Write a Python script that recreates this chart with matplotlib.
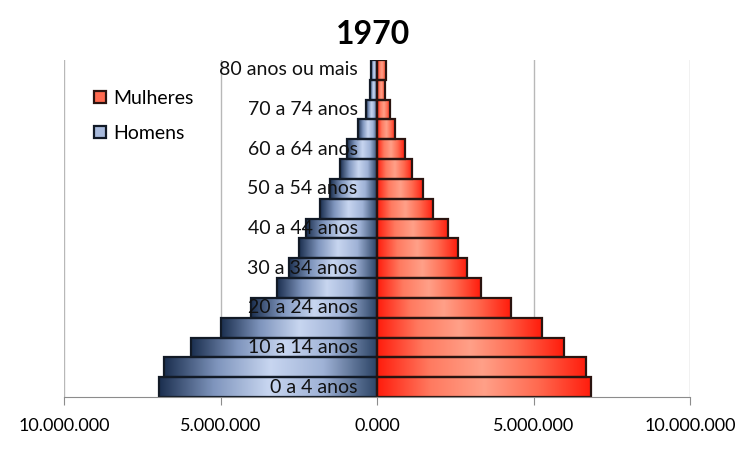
import numpy as np
import matplotlib
matplotlib.use("Agg")
import matplotlib.pyplot as plt
from matplotlib.colors import LinearSegmentedColormap
from matplotlib.lines import Line2D

ageGroups = ["0 a 4 anos", "5 a 9 anos", "10 a 14 anos", "15 a 19 anos", "20 a 24 anos",
             "25 a 29 anos", "30 a 34 anos", "35 a 39 anos", "40 a 44 anos", "45 a 49 anos",
             "50 a 54 anos", "55 a 59 anos", "60 a 64 anos", "65 a 69 anos", "70 a 74 anos",
             "75 a 79 anos", "80 anos ou mais"]
homens = [6970000, 6790000, 5940000, 5000000, 4020000, 3190000, 2810000, 2490000, 2270000,
          1810000, 1490000, 1170000, 960000, 620000, 350000, 210000, 190000]
mulheres = [6840000, 6680000, 5960000, 5270000, 4280000, 3320000, 2880000, 2580000, 2280000,
            1790000, 1480000, 1120000, 880000, 590000, 420000, 260000, 290000]
xTicks = [-10000000, -5000000, 0, 5000000, 10000000]
xTickLabels = ["10.000.000", "5.000.000", "0.000", "5.000.000", "10.000.000"]

plt.rcParams['font.family'] = ['Lato', 'DejaVu Sans']

fig = plt.figure(figsize=(7.5, 4.5), dpi=100)
ax = fig.add_axes([64 / 750, 1 - 397 / 450, 626 / 750, 337 / 450])

blueMap = LinearSegmentedColormap.from_list("b", ["#1b2f4f", "#7f95bd", "#c8d6f0", "#9fb2d6", "#2c4466"])
redMap = LinearSegmentedColormap.from_list("r", ["#ff1c0c", "#ff7a60", "#ffa088", "#ff6a50", "#ff1c0c"])
grad = np.linspace(0, 1, 256).reshape(1, -1)

for xv in xTicks:
    ax.axvline(xv, color="#b8b8b8", lw=1, zorder=0)

for i in range(len(ageGroups)):
    ax.imshow(grad, cmap=blueMap, aspect="auto", interpolation="bilinear",
              extent=[-homens[i], 0, i - 0.5, i + 0.5], zorder=1)
    ax.imshow(grad, cmap=redMap, aspect="auto", interpolation="bilinear",
              extent=[0, mulheres[i], i - 0.5, i + 0.5], zorder=1)

y = np.arange(len(ageGroups))
ax.barh(y, -np.array(homens), height=1, facecolor="none", edgecolor="#121a26", lw=1.6, zorder=2)
ax.barh(y, mulheres, height=1, facecolor="none", edgecolor="#2a1410", lw=1.6, zorder=2)

for i, lab in enumerate(ageGroups):
    if i % 2 == 0:
        ax.annotate(lab, (0, i), xytext=(-14, 0), textcoords="offset points",
                    ha="right", va="center", fontsize=14, color="#111111", zorder=5)

ax.set_xlim(-10000000, 10000000)
ax.set_ylim(-0.5, len(ageGroups) - 0.5)
ax.set_xticks(xTicks)
ax.set_xticklabels(xTickLabels, fontsize=13)
ax.set_yticks([])
ax.tick_params(axis="x", length=6, color="#8c8c8c", pad=9)
for s in ["top", "right", "left"]:
    ax.spines[s].set_visible(False)
ax.spines["bottom"].set_color("#8c8c8c")
ax.spines["bottom"].set_zorder(3)

fig.text(0.497, 1 - 35 / 450, "1970", ha="center", va="center", fontsize=23, fontweight="bold")

handles = [Line2D([], [], ls="none", marker="s", markersize=9, markerfacecolor="#ff6a50",
                  markeredgecolor="#2a1410", markeredgewidth=1.6),
           Line2D([], [], ls="none", marker="s", markersize=9, markerfacecolor="#a8badc",
                  markeredgecolor="#121a26", markeredgewidth=1.6)]
fig.legend(handles, ["Mulheres", "Homens"], loc="upper left", bbox_to_anchor=(76 / 750, 1 - 72 / 450),
           frameon=False, fontsize=14, handlelength=0.7, handletextpad=0.3, labelspacing=0.95)

fig.savefig("out.png", dpi=100)
